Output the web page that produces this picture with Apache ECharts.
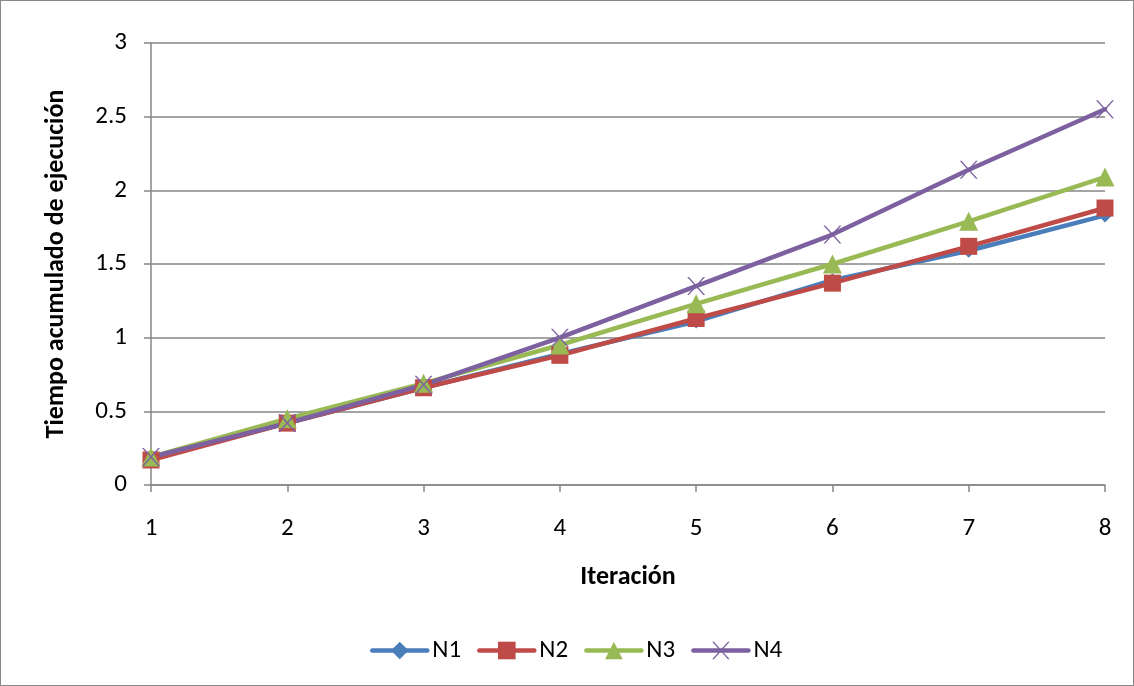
<!DOCTYPE html>
<html><head><meta charset="utf-8">
<script src="https://cdn.jsdelivr.net/npm/echarts@6/dist/echarts.min.js"></script>
<style>html,body{margin:0;padding:0;background:#fff}#c{width:1134px;height:686px;box-sizing:border-box;border:1px solid #888}</style>
</head><body><div id="c"></div>
<script>
const categories = ['1','2','3','4','5','6','7','8'];
const N1 = [0.18, 0.42, 0.66, 0.89, 1.11, 1.39, 1.59, 1.83];
const N2 = [0.17, 0.42, 0.66, 0.88, 1.13, 1.37, 1.62, 1.88];
const N3 = [0.19, 0.45, 0.69, 0.95, 1.23, 1.50, 1.79, 2.09];
const N4 = [0.19, 0.42, 0.68, 1.00, 1.35, 1.70, 2.14, 2.55];
const yTicks = [0, 0.5, 1, 1.5, 2, 2.5, 3];

const F = 'Carlito, "Open Sans", "Liberation Sans", sans-serif';
const X = 'path://M0,0 L2,0 L10,8 L18,0 L20,0 L11,9 L20,18 L18,18 L10,10 L2,18 L0,18 L9,9 Z';
function s(name, data, color, symbol, size) {
  return {name, type:'line', data, symbol, symbolSize:size, showSymbol:true,
    lineStyle:{width:4.5, color, cap:'round', join:'round'}, itemStyle:{color}, emphasis:{disabled:true}};
}
const chart = echarts.init(document.getElementById('c'), null, {renderer:'canvas'});
chart.setOption({
  animation:false,
  grid:{left:150, right:28, top:42, bottom:200, containLabel:false},
  xAxis:{type:'category', data:categories, boundaryGap:false,
    name:'Iteración', nameLocation:'middle', nameGap:79,
    nameTextStyle:{fontFamily:F, fontSize:26, fontWeight:'bold', color:'#000'},
    axisLine:{lineStyle:{color:'#868686', width:1.5}},
    axisTick:{show:true, length:7, lineStyle:{color:'#868686', width:1.5}, alignWithLabel:true},
    axisLabel:{fontFamily:F, fontSize:25, color:'#000', margin:31},
    splitLine:{show:false}},
  yAxis:{type:'value', min:0, max:3, interval:0.5,
    name:'Tiempo acumulado de ejecución', nameLocation:'middle', nameGap:82,
    nameTextStyle:{fontFamily:F, fontSize:26, fontWeight:'bold', color:'#000'},
    axisLine:{show:true, lineStyle:{color:'#868686', width:1.5}},
    axisTick:{show:true, length:7, lineStyle:{color:'#868686', width:1.5}},
    axisLabel:{fontFamily:F, fontSize:25, color:'#000', margin:24,
      formatter:v=>yTicks.includes(v)?String(v):''},
    splitLine:{lineStyle:{color:'#868686', width:1.5}}},
  legend:{top:632, left:364, itemWidth:55, itemHeight:22, itemGap:16,
    textStyle:{fontFamily:F, fontSize:25, color:'#000'},
    lineStyle:{width:4.5, cap:'round'},
    data:['N1','N2','N3','N4']},
  series:[
    s('N1', N1, '#4a7ebb', 'diamond', 14),
    s('N2', N2, '#be4b48', 'rect', 17),
    s('N3', N3, '#98b954', 'triangle', 19),
    s('N4', N4, '#7d60a0', X, 18)
  ]
});
</script></body></html>
